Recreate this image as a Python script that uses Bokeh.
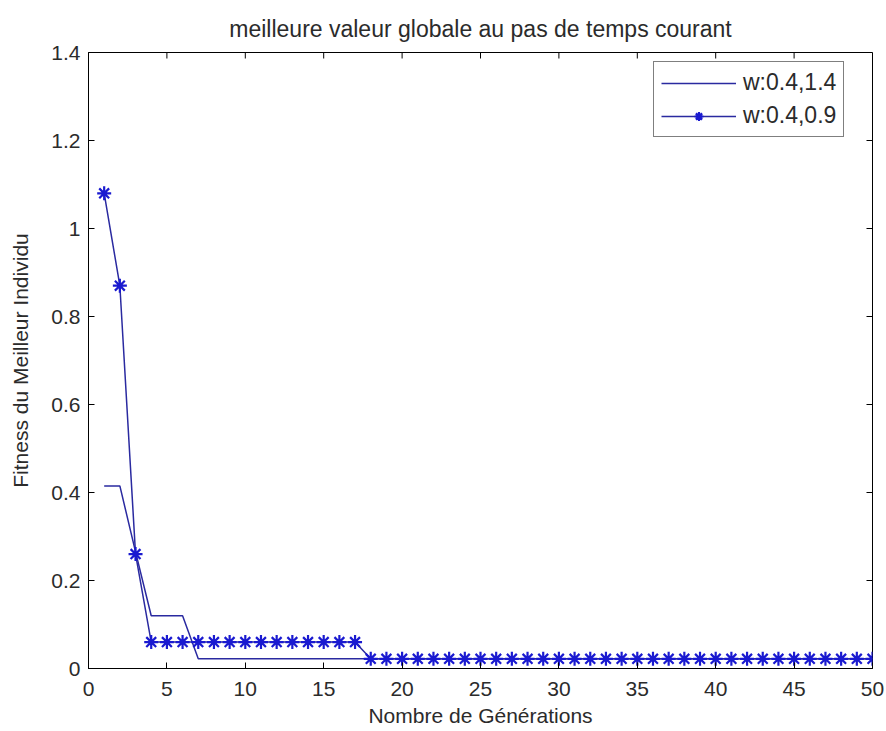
from bokeh.plotting import figure
from bokeh.models import Range1d, FixedTicker, Legend, LegendItem
from bokeh.embed import file_html
from bokeh.resources import INLINE

# ---- data ----
generations = [1, 2, 3, 4, 5, 6, 7, 8, 9, 10,
               11, 12, 13, 14, 15, 16, 17, 18, 19, 20,
               21, 22, 23, 24, 25, 26, 27, 28, 29, 30,
               31, 32, 33, 34, 35, 36, 37, 38, 39, 40,
               41, 42, 43, 44, 45, 46, 47, 48, 49, 50]
fit_w14 = [0.415, 0.415, 0.265, 0.12, 0.12, 0.12, 0.022, 0.022, 0.022, 0.022,
           0.022, 0.022, 0.022, 0.022, 0.022, 0.022, 0.022, 0.022, 0.022, 0.022,
           0.022, 0.022, 0.022, 0.022, 0.022, 0.022, 0.022, 0.022, 0.022, 0.022,
           0.022, 0.022, 0.022, 0.022, 0.022, 0.022, 0.022, 0.022, 0.022, 0.022,
           0.022, 0.022, 0.022, 0.022, 0.022, 0.022, 0.022, 0.022, 0.022, 0.022]
fit_w09 = [1.08, 0.87, 0.26, 0.06, 0.06, 0.06, 0.06, 0.06, 0.06, 0.06,
           0.06, 0.06, 0.06, 0.06, 0.06, 0.06, 0.06, 0.022, 0.022, 0.022,
           0.022, 0.022, 0.022, 0.022, 0.022, 0.022, 0.022, 0.022, 0.022, 0.022,
           0.022, 0.022, 0.022, 0.022, 0.022, 0.022, 0.022, 0.022, 0.022, 0.022,
           0.022, 0.022, 0.022, 0.022, 0.022, 0.022, 0.022, 0.022, 0.022, 0.022]
series_labels = ["w:0.4,1.4", "w:0.4,0.9"]
x_ticks = [0, 5, 10, 15, 20, 25, 30, 35, 40, 45, 50]
y_ticks = [0, 0.2, 0.4, 0.6, 0.8, 1.0, 1.2, 1.4]
y_tick_labels = ["0", "0.2", "0.4", "0.6", "0.8", "1", "1.2", "1.4"]
x_min, x_max = 0, 50
y_min, y_max = 0, 1.4

title_text = "meilleure valeur globale au pas de temps courant"
x_label = "Nombre de Générations"
y_label = "Fitness du Meilleur Individu"

# ---- style ----
FONT = "Liberation Sans"
TXT = "#2b2b2b"
LINE_C = "#2a2aa0"
MARK_C = "#1a1ad0"
TICK_PX = 6
FRAME_W = 886 - 88 - 14
FRAME_H = 731 - 52 - 63

p = figure(width=886, height=731, output_backend="svg", toolbar_location=None,
           x_range=Range1d(x_min, x_max), y_range=Range1d(y_min, y_max),
           min_border_left=88, min_border_right=14, min_border_top=52, min_border_bottom=63,
           background_fill_color="white", border_fill_color="white")

p.title.text = title_text
p.title.align = "center"
p.title.text_font = FONT
p.title.text_font_size = "23px"
p.title.text_font_style = "normal"
p.title.text_color = TXT
p.title.standoff = 21

p.xgrid.visible = False
p.ygrid.visible = False
p.outline_line_color = "black"
p.outline_line_width = 1

overrides = {t: lab for t, lab in zip(y_ticks, y_tick_labels)}

for ax, ticks in ((p.xaxis[0], x_ticks), (p.yaxis[0], y_ticks)):
    ax.ticker = FixedTicker(ticks=ticks)
    ax.axis_line_color = "black"
    ax.major_tick_line_color = "black"
    ax.major_tick_in = TICK_PX
    ax.major_tick_out = 0
    ax.minor_tick_line_color = None
    ax.major_label_text_font = FONT
    ax.major_label_text_color = TXT
    ax.major_label_text_font_size = "21px"
    ax.axis_label_text_font = FONT
    ax.axis_label_text_color = TXT
    ax.axis_label_text_font_style = "normal"
    ax.axis_label_text_font_size = "21px"

p.xaxis[0].axis_label = x_label
p.yaxis[0].axis_label = y_label
p.xaxis[0].major_label_standoff = 13
p.xaxis[0].axis_label_standoff = 5
p.yaxis[0].major_label_standoff = 8
p.yaxis[0].axis_label_standoff = 16
p.yaxis[0].major_label_overrides = overrides

# inward ticks on the top and right edges of the box (MATLAB box style)
dy = (y_max - y_min) * TICK_PX / FRAME_H
dx = (x_max - x_min) * TICK_PX / FRAME_W
p.segment(x0=x_ticks, y0=[y_max for _ in x_ticks], x1=x_ticks,
          y1=[y_max - dy for _ in x_ticks], line_color="black", line_width=1)
p.segment(x0=[x_max for _ in y_ticks], y0=y_ticks, x1=[x_max - dx for _ in y_ticks],
          y1=y_ticks, line_color="black", line_width=1)

l1 = p.line(generations, fit_w14, line_color=LINE_C, line_width=1.5)
l2 = p.line(generations, fit_w09, line_color=LINE_C, line_width=1.5)
s2 = p.scatter(generations, fit_w09, marker="asterisk", size=14,
               line_color=MARK_C, line_width=2.2)

legend = Legend(items=[LegendItem(label=series_labels[0], renderers=[l1]),
                       LegendItem(label=series_labels[1], renderers=[l2, s2])],
                location=(565, 531))
legend.label_text_font = FONT
legend.label_text_font_size = "23px"
legend.label_text_color = TXT
legend.glyph_width = 75
legend.glyph_height = 22
legend.label_height = 22
legend.spacing = 6
legend.padding = 7
legend.margin = 0
legend.label_standoff = 7
legend.border_line_color = "black"
legend.border_line_width = 1
legend.background_fill_color = "white"
legend.background_fill_alpha = 1
p.add_layout(legend, "center")

open("out.html", "w").write(file_html(p, INLINE))
